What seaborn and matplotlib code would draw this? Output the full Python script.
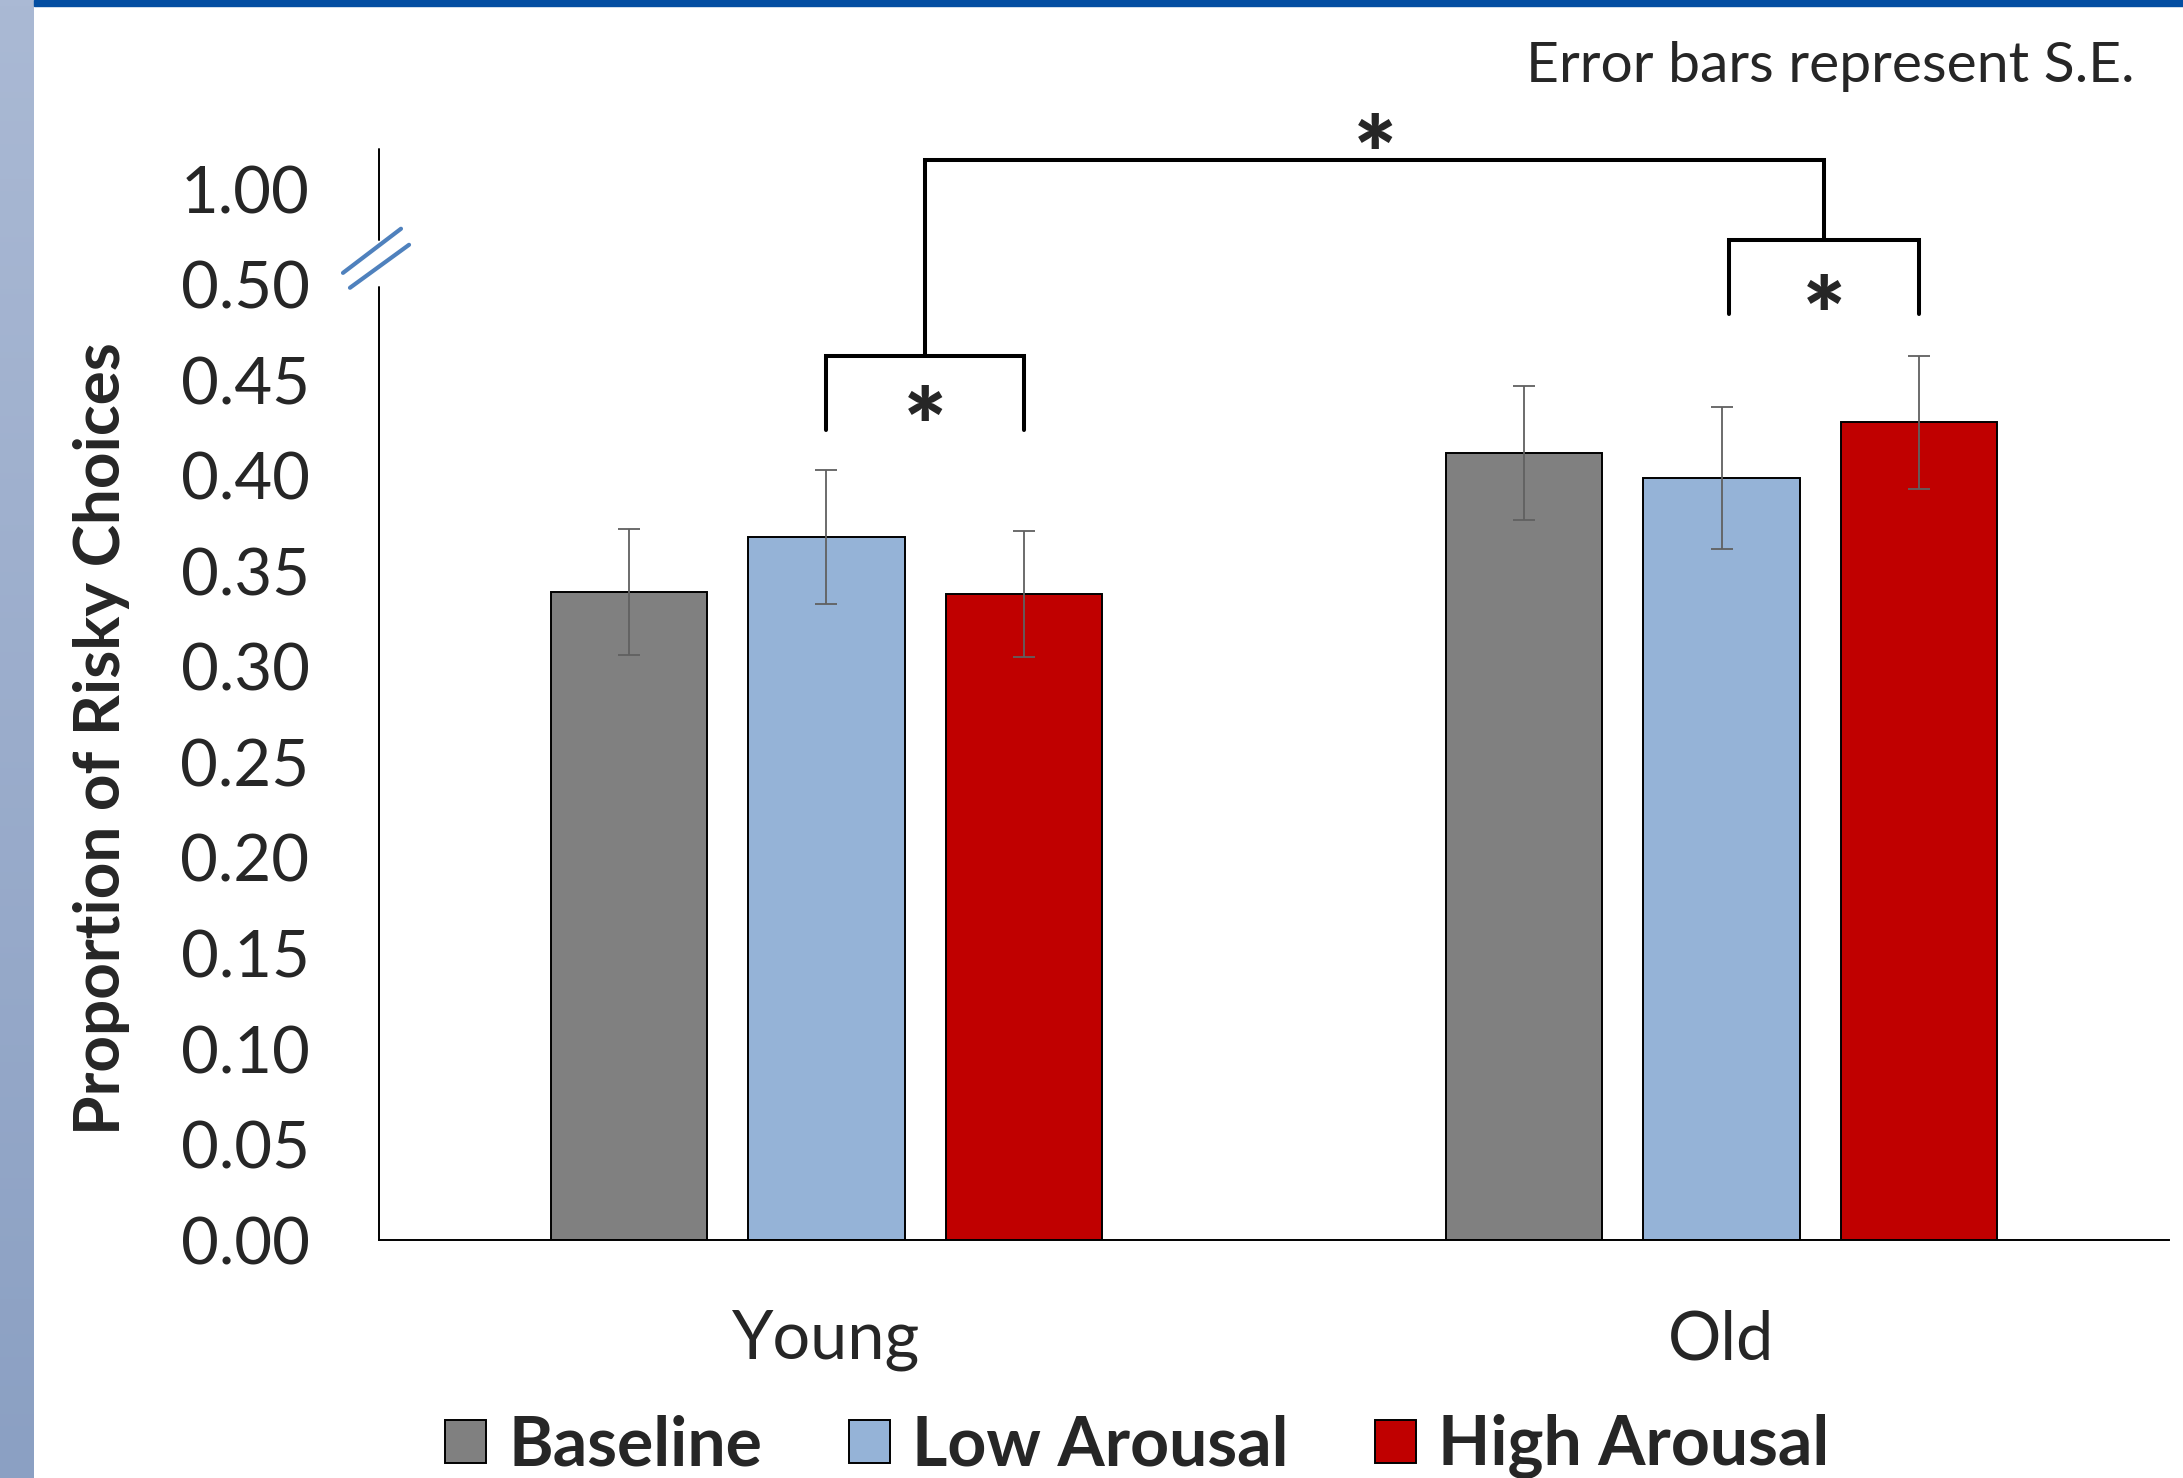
import numpy as np
import pandas as pd
import matplotlib
matplotlib.use('Agg')
import matplotlib.pyplot as plt
import seaborn as sns
from matplotlib.patches import Patch, Rectangle
from matplotlib.colors import LinearSegmentedColormap

sns.set_theme(style="white")
plt.rcParams['font.family'] = ['Lato', 'DejaVu Sans']

# Datos
grupos = ['Young', 'Old']
condiciones = ['Baseline', 'Low Arousal', 'High Arousal']
baseline = [0.339, 0.412]
low_arousal = [0.368, 0.399]
high_arousal = [0.338, 0.428]
se_baseline = [0.033, 0.035]
se_low = [0.035, 0.037]
se_high = [0.033, 0.035]
colores = ['#808080', '#95B3D7', '#C00000']

# Eje Y con corte: la ultima marca (posicion 0.55) se rotula 1.00
ticks_pos = [0.00, 0.05, 0.10, 0.15, 0.20, 0.25, 0.30, 0.35, 0.40, 0.45, 0.50, 0.55]
ticks_txt = ['0.00', '0.05', '0.10', '0.15', '0.20', '0.25', '0.30', '0.35',
             '0.40', '0.45', '0.50', '1.00']

df = pd.DataFrame({
    'Grupo': grupos * 3,
    'Condicion': np.repeat(condiciones, 2),
    'Valor': baseline + low_arousal + high_arousal,
    'SE': se_baseline + se_low + se_high,
})

fig = plt.figure(figsize=(21.83, 14.78), dpi=100)
ax = fig.add_axes([0.1736, 0.161, 0.82, 0.738])

sns.barplot(data=df, x='Grupo', y='Valor', hue='Condicion', order=grupos,
            hue_order=condiciones, palette=colores, saturation=1,
            width=0.663, gap=0.21, edgecolor='black', linewidth=1.4,
            errorbar=None, legend=False, ax=ax)

# Barras de error (S.E.)
for cont, cond in zip(ax.containers, condiciones):
    sub = df[df['Condicion'] == cond]
    xs = [b.get_x() + b.get_width() / 2 for b in cont]
    ax.errorbar(xs, sub['Valor'], yerr=sub['SE'], fmt='none', ecolor='#606060',
                elinewidth=1.3, capsize=8, capthick=1.3)

ax.set_xlim(-0.5, 1.5)
ax.set_ylim(0, 0.571)
ax.set_yticks(ticks_pos)
ax.set_yticklabels(ticks_txt)
ax.tick_params(axis='y', length=0, pad=50, labelsize=47)
ax.tick_params(axis='x', length=0, pad=50, labelsize=48)
ax.set_xlabel('')
ax.set_ylabel('Proportion of Risky Choices', fontsize=46, fontweight='bold')
ax.yaxis.set_label_coords(-0.139, 0.46)

for s in ['top', 'right', 'left']:
    ax.spines[s].set_visible(False)
ax.spines['bottom'].set_color('black')
ax.spines['bottom'].set_linewidth(1.4)

# Eje izquierdo cortado y marcas de corte
trans = ax.get_yaxis_transform()
ax.plot([0, 0], [0, 0.499], transform=trans, color='black', lw=1.4, clip_on=False)
ax.plot([0, 0], [0.5236, 0.571], transform=trans, color='black', lw=1.4, clip_on=False)
ax.plot([-0.0201, 0.0123], [0.5063, 0.5294], transform=trans, color='#4F81BD', lw=3, clip_on=False)
ax.plot([-0.0162, 0.0168], [0.4985, 0.5210], transform=trans, color='#4F81BD', lw=3, clip_on=False)

# Corchetes de significancia
def centro(b):
    return b.get_x() + b.get_width() / 2

c_low, c_high = ax.containers[1], ax.containers[2]
yx1, yx2 = centro(c_low[0]), centro(c_high[0])
ox1, ox2 = centro(c_low[1]) + 0.008, centro(c_high[1])
ymid = (yx1 + yx2) / 2
omid = (ox1 + ox2) / 2
kw = dict(color='black', lw=2.9, clip_on=False, solid_joinstyle='miter')
ax.plot([yx1, yx1, yx2, yx2], [0.4242, 0.4628, 0.4628, 0.4242], **kw)
ax.plot([ox1, ox1, ox2, ox2], [0.4847, 0.5233, 0.5233, 0.4847], **kw)
ax.plot([ymid, ymid, omid, omid], [0.4628, 0.5656, 0.5656, 0.5233], **kw)
star = dict(ha='center', va='center', fontsize=72, fontweight='heavy')
ax.text(ymid, 0.4227, '*', **star)
ax.text(omid, 0.4807, '*', **star)
ax.text((ymid + omid) / 2, 0.5647, '*', **star)

fig.text(0.9776, 0.955, 'Error bars represent S.E.', ha='right', va='center', fontsize=41)

# Leyenda
handles = [Patch(facecolor=c, edgecolor='black', linewidth=1.4, label=l)
           for c, l in zip(colores, condiciones)]
fig.legend(handles=handles, loc='center', bbox_to_anchor=(0.521, 0.021), ncol=3,
           frameon=False, prop={'weight': 'bold', 'size': 49},
           handlelength=0.6, handleheight=0.6, handletextpad=0.33,
           columnspacing=1.27, borderpad=0, borderaxespad=0)

# Decoracion de la diapositiva: franja izquierda y linea superior
franja = fig.add_axes([0, 0, 34 / 2183, 1])
cmap = LinearSegmentedColormap.from_list('franja', ['#AAB9D4', '#8BA0C3'])
franja.imshow(np.linspace(0, 1, 256).reshape(-1, 1), aspect='auto', cmap=cmap)
franja.axis('off')
fig.add_artist(Rectangle((34 / 2183, 1 - 6 / 1478), 1, 6 / 1478,
                         transform=fig.transFigure, color='#034EA2'))

fig.savefig('out.png', dpi=100)
